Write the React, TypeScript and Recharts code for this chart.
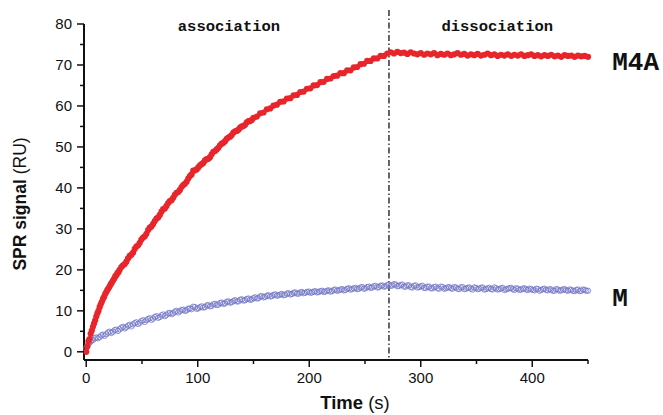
import React from 'react';
import { ScatterChart, Scatter, XAxis, YAxis, ReferenceLine, ReferenceDot } from 'recharts';

// M4A response: [time (s), SPR signal (RU)]
const m4aSeries: [number, number][] = [
  [0, 0.0], [1, 1.3], [2, 2.6], [3, 3.1], [4, 4.4], [5, 5.2], [6, 6.1], [7, 6.9], [8, 7.7], [9, 8.6],
  [10, 9.4], [11, 10.0], [12, 10.9], [13, 11.6], [14, 12.2], [15, 12.9], [16, 13.4], [17, 14.1], [18, 14.6], [19, 15.1],
  [20, 15.5], [21, 16.0], [22, 16.5], [23, 16.9], [24, 17.4], [25, 17.8], [26, 18.4], [27, 18.7], [28, 19.2], [29, 19.5],
  [30, 20.0], [33, 21.1], [36, 22.0], [39, 23.4], [42, 24.2], [45, 25.7], [48, 26.6], [51, 27.9], [54, 28.8], [57, 30.3],
  [60, 31.2], [63, 32.5], [66, 33.4], [69, 34.8], [72, 35.6], [75, 36.8], [78, 37.6], [81, 38.8], [84, 39.5], [87, 40.7],
  [90, 41.5], [93, 42.9], [96, 44.2], [99, 44.5], [102, 45.5], [105, 46.1], [108, 47.0], [111, 47.5], [114, 48.8], [117, 49.4],
  [120, 50.4], [123, 51.0], [126, 52.0], [129, 52.5], [132, 53.5], [135, 53.9], [138, 54.7], [141, 55.1], [144, 56.0], [147, 56.3],
  [150, 57.1], [153, 57.4], [156, 58.2], [159, 58.4], [162, 59.2], [165, 59.4], [168, 60.1], [171, 60.3], [174, 61.0], [177, 61.1],
  [180, 61.8], [183, 61.9], [186, 62.6], [189, 62.7], [192, 63.4], [195, 63.5], [198, 64.2], [201, 64.3], [204, 65.0], [207, 65.1],
  [210, 65.8], [213, 65.9], [216, 66.6], [219, 66.7], [222, 67.3], [225, 67.4], [228, 68.0], [231, 68.0], [234, 68.7], [237, 68.7],
  [240, 69.4], [243, 69.5], [246, 70.2], [249, 70.3], [252, 71.0], [255, 71.0], [258, 71.6], [261, 71.6], [264, 72.2], [267, 72.2],
  [270, 72.8], [273, 73.1], [276, 72.8], [279, 73.2], [282, 72.9], [285, 73.0], [288, 72.7], [291, 73.1], [294, 72.8], [297, 72.6],
  [300, 72.9], [303, 72.5], [306, 72.8], [309, 72.6], [312, 72.9], [315, 72.4], [318, 72.7], [321, 72.5], [324, 72.8], [327, 72.4],
  [330, 72.6], [333, 72.9], [336, 72.5], [339, 72.7], [342, 72.3], [345, 72.6], [348, 72.4], [351, 72.7], [354, 72.3], [357, 72.5],
  [360, 72.8], [363, 72.4], [366, 72.6], [369, 72.2], [372, 72.5], [375, 72.3], [378, 72.6], [381, 72.2], [384, 72.5], [387, 72.3],
  [390, 72.6], [393, 72.2], [396, 72.4], [399, 72.6], [402, 72.2], [405, 72.4], [408, 72.1], [411, 72.4], [414, 72.2], [417, 72.5],
  [420, 72.1], [423, 72.3], [426, 72.0], [429, 72.4], [432, 72.2], [435, 72.3], [438, 72.0], [441, 72.3], [444, 72.1], [447, 72.2],
  [450, 72.0],
];

// M4A readings between the samples above on the steep part of the rise
const m4aSeriesMid: [number, number][] = [
  [31.5, 20.7], [34.5, 21.4], [37.5, 22.8], [40.5, 23.7], [43.5, 25.1], [46.5, 26.0], [49.5, 27.4], [52.5, 28.2],
  [55.5, 29.7], [58.5, 30.6], [61.5, 31.9], [64.5, 32.8], [67.5, 34.2], [70.5, 35.0], [73.5, 36.3], [76.5, 37.0],
  [79.5, 38.3], [82.5, 39.0], [85.5, 40.2], [88.5, 41.0], [91.5, 42.3], [94.5, 43.3], [97.5, 44.3], [100.5, 45.0],
  [103.5, 45.8], [106.5, 46.7], [109.5, 47.1], [112.5, 48.2], [115.5, 49.0], [118.5, 49.8], [121.5, 50.8], [124.5, 51.4],
  [127.5, 52.3], [130.5, 52.9], [133.5, 53.8], [136.5, 54.2], [139.5, 55.0], [142.5, 55.4], [145.5, 56.3], [148.5, 56.6],
];

// M response: [time (s), SPR signal (RU)]
const mSeries: [number, number][] = [
  [0, 0.9], [1, 1.5], [2, 1.9], [3, 2.3], [4, 2.5], [5, 2.8], [6, 2.9], [9, 3.5], [12, 3.6], [15, 4.2],
  [18, 4.3], [21, 4.9], [24, 4.9], [27, 5.4], [30, 5.5], [33, 6.1], [36, 6.0], [39, 6.6], [42, 6.7], [45, 7.2],
  [48, 7.1], [51, 7.7], [54, 7.7], [57, 8.2], [60, 8.1], [63, 8.7], [66, 8.5], [69, 9.1], [72, 9.0], [75, 9.5],
  [78, 9.4], [81, 10.0], [84, 9.9], [87, 10.3], [90, 10.1], [93, 10.6], [96, 11.0], [99, 10.5], [102, 10.9], [105, 10.8],
  [108, 11.3], [111, 11.1], [114, 11.6], [117, 11.4], [120, 11.9], [123, 11.7], [126, 12.2], [129, 12.0], [132, 12.4], [135, 12.3],
  [138, 12.7], [141, 12.5], [144, 12.9], [147, 12.7], [150, 13.1], [153, 13.0], [156, 13.5], [159, 13.3], [162, 13.7], [165, 13.5],
  [168, 13.9], [171, 13.7], [174, 14.0], [177, 13.8], [180, 14.2], [183, 14.0], [186, 14.4], [189, 14.2], [192, 14.5], [195, 14.3],
  [198, 14.6], [201, 14.4], [204, 14.7], [207, 14.5], [210, 14.8], [213, 14.6], [216, 14.9], [219, 14.7], [222, 15.1], [225, 14.9],
  [228, 15.2], [231, 15.0], [234, 15.4], [237, 15.2], [240, 15.5], [243, 15.3], [246, 15.7], [249, 15.4], [252, 15.8], [255, 15.6],
  [258, 16.0], [261, 15.7], [264, 16.1], [267, 15.9], [270, 16.3], [273, 16.1], [276, 16.5], [279, 16.0], [282, 16.3], [285, 15.9],
  [288, 16.2], [291, 15.8], [294, 16.1], [297, 15.7], [300, 16.0], [303, 15.6], [306, 15.9], [309, 15.5], [312, 15.8], [315, 15.5],
  [318, 15.9], [321, 15.4], [324, 15.7], [327, 15.5], [330, 15.8], [333, 15.4], [336, 15.7], [339, 15.3], [342, 15.6], [345, 15.4],
  [348, 15.7], [351, 15.3], [354, 15.6], [357, 15.2], [360, 15.5], [363, 15.3], [366, 15.7], [369, 15.2], [372, 15.5], [375, 15.1],
  [378, 15.4], [381, 15.6], [384, 15.1], [387, 15.4], [390, 15.2], [393, 15.5], [396, 15.1], [399, 15.3], [402, 15.0], [405, 15.3],
  [408, 15.1], [411, 15.4], [414, 15.0], [417, 15.2], [420, 14.9], [423, 15.2], [426, 15.0], [429, 15.3], [432, 14.9], [435, 15.1],
  [438, 14.8], [441, 15.2], [444, 14.9], [447, 15.1], [450, 14.9],
];

// M readings between the samples above
const mSeriesMid: [number, number][] = [
  [7.5, 3.3], [10.5, 3.3], [13.5, 4.0], [16.5, 3.9], [19.5, 4.7], [22.5, 4.6], [25.5, 5.3], [28.5, 5.1], [31.5, 5.9], [34.5, 5.7],
  [37.5, 6.4], [40.5, 6.2], [43.5, 7.0], [46.5, 6.8], [49.5, 7.5], [52.5, 7.3], [55.5, 8.0], [58.5, 7.8], [61.5, 8.5], [64.5, 8.3],
  [67.5, 8.9], [70.5, 8.7], [73.5, 9.4], [76.5, 9.2], [79.5, 9.8], [82.5, 9.6], [85.5, 10.2], [88.5, 10.0], [91.5, 10.5], [94.5, 10.4],
  [97.5, 10.9], [100.5, 10.6], [103.5, 11.1], [106.5, 10.9], [109.5, 11.4], [112.5, 11.2], [115.5, 11.7], [118.5, 11.5], [121.5, 12.0], [124.5, 11.8],
  [127.5, 12.3], [130.5, 12.1], [133.5, 12.6], [136.5, 12.3], [139.5, 12.8], [142.5, 12.6], [145.5, 13.0], [148.5, 12.8], [151.5, 13.3], [154.5, 13.1],
  [157.5, 13.6], [160.5, 13.4], [163.5, 13.8], [166.5, 13.6], [169.5, 14.0], [172.5, 13.8], [175.5, 14.1], [178.5, 13.9], [181.5, 14.3], [184.5, 14.1],
  [187.5, 14.5], [190.5, 14.2], [193.5, 14.6], [196.5, 14.4], [199.5, 14.7], [202.5, 14.5], [205.5, 14.8], [208.5, 14.6], [211.5, 14.9], [214.5, 14.7],
  [217.5, 15.0], [220.5, 14.8], [223.5, 15.2], [226.5, 15.0], [229.5, 15.3], [232.5, 15.1], [235.5, 15.5], [238.5, 15.3], [241.5, 15.6], [244.5, 15.4],
  [247.5, 15.8], [250.5, 15.5], [253.5, 15.9], [256.5, 15.7], [259.5, 16.1], [262.5, 15.8], [265.5, 16.2], [268.5, 16.0], [271.5, 16.4], [274.5, 16.2],
  [277.5, 16.4], [280.5, 16.1], [283.5, 16.4], [286.5, 15.9], [289.5, 16.2], [292.5, 15.7], [295.5, 16.2], [298.5, 15.8], [301.5, 16.1], [304.5, 15.6],
  [307.5, 15.9], [310.5, 15.5], [313.5, 15.9], [316.5, 15.4], [319.5, 15.8], [322.5, 15.5], [325.5, 15.8], [328.5, 15.4], [331.5, 15.7], [334.5, 15.3],
  [337.5, 15.8], [340.5, 15.4], [343.5, 15.7], [346.5, 15.2], [349.5, 15.6], [352.5, 15.4], [355.5, 15.7], [358.5, 15.3], [361.5, 15.6], [364.5, 15.2],
  [367.5, 15.5], [370.5, 15.3], [373.5, 15.6], [376.5, 15.2], [379.5, 15.5], [382.5, 15.3], [385.5, 15.5], [388.5, 15.1], [391.5, 15.4], [394.5, 15.2],
  [397.5, 15.4], [400.5, 15.1], [403.5, 15.4], [406.5, 14.9], [409.5, 15.3], [412.5, 15.1], [415.5, 15.3], [418.5, 14.9], [421.5, 15.3], [424.5, 14.9],
  [427.5, 15.2], [430.5, 15.0], [433.5, 15.2], [436.5, 14.9], [439.5, 15.1], [442.5, 14.8], [445.5, 15.2], [448.5, 14.9],
];

const xTicks = [0, 50, 100, 150, 200, 250, 300, 350, 400, 450];
const yTicks = [0, 5, 10, 15, 20, 25, 30, 35, 40, 45, 50, 55, 60, 65, 70, 75, 80];
const xDomain: [number, number] = [-2, 450];
const yDomain: [number, number] = [-2, 80];
const switchTime = 271.5;
const switchSpan: [number, number] = [83.4, -2];
const phaseLabels = [
  { text: 'association', t: 128, v: 78.2 },
  { text: 'dissociation', t: 368.6, v: 78.2 },
];
const seriesLabels = [
  { text: 'M4A', t: 471.7, v: 68.8 },
  { text: 'M', t: 471.7, v: 11.2 },
];

const m4aData = [...m4aSeries, ...m4aSeriesMid].map(([t, v]) => ({ t, v }));
const mData = [...mSeries, ...mSeriesMid].map(([t, v]) => ({ t, v }));

const AXIS = '#111111';
const RED = '#e8252b';
const BLUE = '#7276c4';
const SANS = '"Liberation Sans", Arial, sans-serif';
const MONO = '"Liberation Mono", "Courier New", monospace';

const XTick = (props: any) => {
  const { x, y, payload } = props;
  const major = payload.value % 100 === 0;
  return (
    <g>
      <line x1={x} x2={x} y1={y} y2={y + (major ? 7 : 4)} stroke={AXIS} strokeWidth={1.5} />
      {major && (
        <text x={x} y={y + 23} textAnchor="middle" fontFamily={SANS} fontSize={15} fill={AXIS}>
          {payload.value}
        </text>
      )}
    </g>
  );
};

const YTick = (props: any) => {
  const { x, y, payload } = props;
  const major = payload.value % 10 === 0;
  return (
    <g>
      <line x1={x - (major ? 7 : 4)} x2={x} y1={y} y2={y} stroke={AXIS} strokeWidth={1.5} />
      {major && (
        <text x={x - 12} y={y + 5} textAnchor="end" fontFamily={SANS} fontSize={15} fill={AXIS}>
          {payload.value}
        </text>
      )}
    </g>
  );
};

const renderYTitle = (props: any) => {
  const vb = props.viewBox || {};
  const cx = (vb.x || 0) + 20;
  const cy = (vb.y || 0) + (vb.height || 0) / 2 + 12;
  return (
    <text
      x={cx}
      y={cy}
      transform={`rotate(-90 ${cx} ${cy})`}
      textAnchor="middle"
      dominantBaseline="central"
      fontFamily={SANS}
      fontSize={17.5}
      fill={AXIS}
    >
      <tspan fontWeight="bold">SPR signal</tspan>
      <tspan> (RU)</tspan>
    </text>
  );
};

const renderXTitle = (props: any) => {
  const vb = props.viewBox || {};
  const cx = (vb.x || 0) + (vb.width || 0) / 2 + 19;
  const cy = (vb.y || 0) + 49;
  return (
    <text x={cx} y={cy} textAnchor="middle" fontFamily={SANS} fontSize={18.5} fill={AXIS}>
      <tspan fontWeight="bold">Time</tspan>
      <tspan> (s)</tspan>
    </text>
  );
};

const filledDot = (props: any) => (
  <circle cx={props.cx} cy={props.cy} r={3.1} fill={RED} stroke="none" />
);

const openDot = (props: any) => (
  <circle cx={props.cx} cy={props.cy} r={2.7} fill="none" stroke={BLUE} strokeWidth={0.8} />
);

const textShape = (text: string, size: number, anchor: 'start' | 'middle') => (props: any) => (
  <text
    x={props.cx}
    y={props.cy}
    textAnchor={anchor}
    fontFamily={MONO}
    fontWeight="bold"
    fontSize={size}
    fill={AXIS}
  >
    {text}
  </text>
);

export default function App() {
  return (
    <div style={{ position: 'absolute', left: 0, top: 0, background: '#fff' }}>
      <ScatterChart width={663} height={415} margin={{ top: 24, right: 75, bottom: 0, left: 0 }}>
        <XAxis
          type="number"
          dataKey="t"
          domain={xDomain}
          ticks={xTicks}
          interval={0}
          tickSize={0}
          tickMargin={0}
          tickLine={false}
          axisLine={{ stroke: AXIS, strokeWidth: 2 }}
          tick={<XTick />}
          height={55}
          label={renderXTitle}
        />
        <YAxis
          type="number"
          dataKey="v"
          domain={yDomain}
          ticks={yTicks}
          interval={0}
          tickSize={0}
          tickMargin={0}
          tickLine={false}
          axisLine={{ stroke: AXIS, strokeWidth: 2 }}
          tick={<YTick />}
          width={84}
          label={renderYTitle}
        />
        <ReferenceLine
          segment={[
            { x: switchTime, y: switchSpan[0] },
            { x: switchTime, y: switchSpan[1] },
          ]}
          ifOverflow="visible"
          stroke="#333333"
          strokeWidth={1.5}
          strokeDasharray="6 2.5 1.5 2.5"
        />
        <Scatter data={mData} dataKey="v" shape={openDot} isAnimationActive={false} />
        <Scatter data={m4aData} dataKey="v" shape={filledDot} isAnimationActive={false} />
        {phaseLabels.map((p) => (
          <ReferenceDot
            key={p.text}
            x={p.t}
            y={p.v}
            r={1}
            ifOverflow="visible"
            shape={textShape(p.text, 15.5, 'middle')}
          />
        ))}
        {seriesLabels.map((p) => (
          <ReferenceDot
            key={p.text}
            x={p.t}
            y={p.v}
            r={1}
            ifOverflow="visible"
            shape={textShape(p.text, 26, 'start')}
          />
        ))}
      </ScatterChart>
    </div>
  );
}
